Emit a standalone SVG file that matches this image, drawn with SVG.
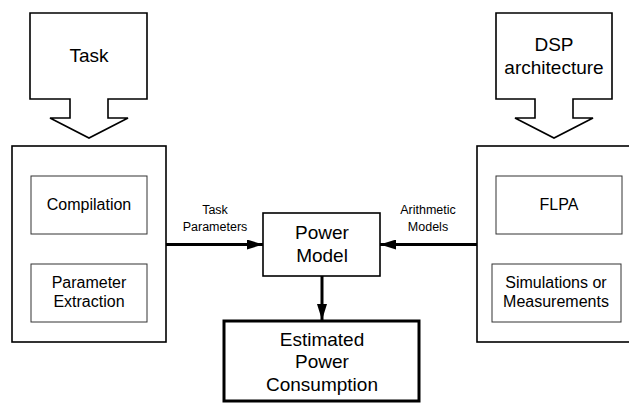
<svg xmlns="http://www.w3.org/2000/svg" width="629" height="403" viewBox="0 0 629 403">
<style>
text{font-family:"Liberation Sans",Arial,sans-serif;fill:#000;text-anchor:middle}
.big{font-size:19px}
.mid{font-size:16px}
.sm{font-size:12.5px}
.outer{fill:#fff;stroke:#000;stroke-width:1.6}
.inner{fill:#fff;stroke:#333;stroke-width:1}
.thick{fill:#fff;stroke:#000;stroke-width:3}
.conn{stroke:#000;stroke-width:3;fill:none}
</style>
<defs>
<marker id="ah" markerWidth="16" markerHeight="10" refX="16" refY="5" orient="auto" markerUnits="userSpaceOnUse">
<path d="M0,0 L16,5 L0,10 Z" fill="#000"/>
</marker>
</defs>
<g id="task">
<polygon class="outer" points="30,13 147,13 147,99 108,99 108,118 128,118 89,138 50,118 70,118 70,99 30,99"/>
<text class="big" x="89" y="62">Task</text>
</g>
<g id="dsp">
<polygon class="outer" points="496,13 612,13 612,99 573,99 573,118 593,118 554,138 515,118 535,118 535,99 496,99"/>
<text class="big" x="554" y="51">DSP</text>
<text class="big" x="554" y="74">architecture</text>
</g>
<g id="left-box">
<rect class="outer" x="12" y="146" width="154" height="196"/>
</g>
<g id="compilation">
<rect class="inner" x="31" y="176" width="116" height="58"/>
<text class="mid" x="89" y="210">Compilation</text>
</g>
<g id="param-extraction">
<rect class="inner" x="31" y="264" width="116" height="58"/>
<text class="mid" x="89" y="288">Parameter</text>
<text class="mid" x="89" y="307">Extraction</text>
</g>
<g id="right-box">
<rect class="outer" x="477" y="146" width="160" height="196"/>
</g>
<g id="flpa">
<rect class="inner" x="496" y="176" width="126" height="58"/>
<text class="mid" x="559" y="210">FLPA</text>
</g>
<g id="simulations">
<rect class="inner" x="492" y="264" width="129" height="58"/>
<text class="mid" x="556" y="288">Simulations or</text>
<text class="mid" x="556" y="307">Measurements</text>
</g>
<g id="power-model">
<rect class="outer" x="263" y="213" width="117" height="63"/>
<text class="big" x="322" y="239">Power</text>
<text class="big" x="322" y="262">Model</text>
</g>
<g id="estimated">
<rect class="thick" x="224" y="321" width="195" height="80"/>
<text class="big" x="322" y="346">Estimated</text>
<text class="big" x="322" y="368">Power</text>
<text class="big" x="322" y="391">Consumption</text>
</g>
<g id="connectors">
<line class="conn" x1="166" y1="244.5" x2="263" y2="244.5" marker-end="url(#ah)"/>
<line class="conn" x1="477" y1="244.5" x2="380" y2="244.5" marker-end="url(#ah)"/>
<line class="conn" x1="322" y1="276" x2="322" y2="320" marker-end="url(#ah)"/>
<text class="sm" x="215" y="214">Task</text>
<text class="sm" x="215" y="231">Parameters</text>
<text class="sm" x="428" y="214">Arithmetic</text>
<text class="sm" x="428" y="231">Models</text>
</g>
</svg>
